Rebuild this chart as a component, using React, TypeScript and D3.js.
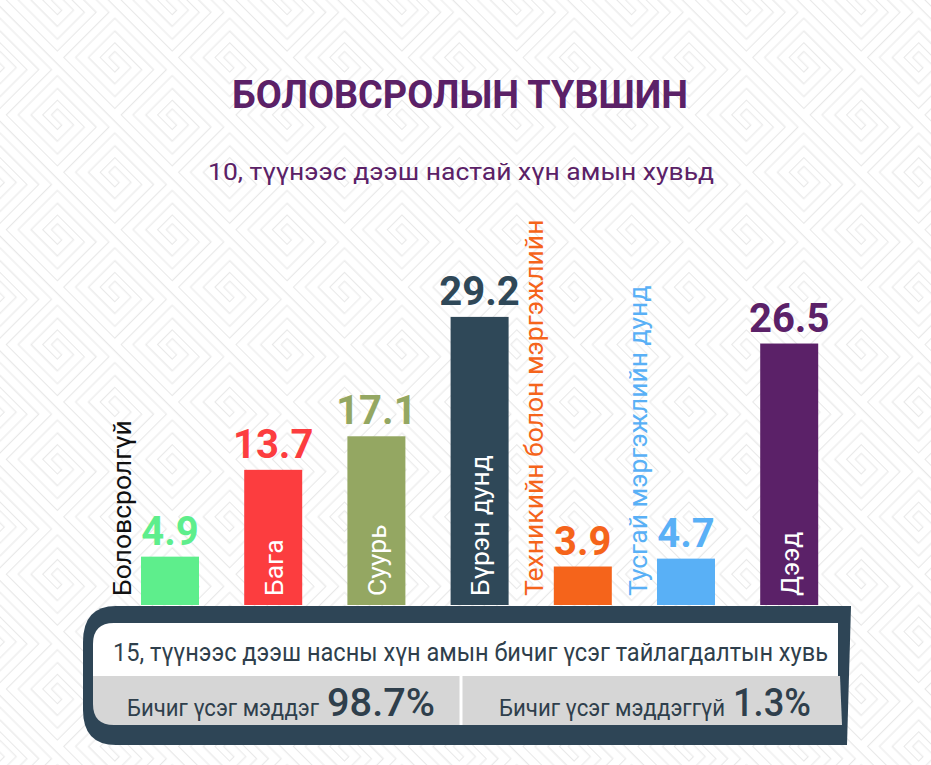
import React from "react";
import * as d3 from "d3";

const categories = [
  "Боловсролгүй",
  "Бага",
  "Суурь",
  "Бүрэн дунд",
  "Техникийн болон мэргэжлийн",
  "Тусгай мэргэжлийн дунд",
  "Дээд",
];
const values = [4.9, 13.7, 17.1, 29.2, 3.9, 4.7, 26.5];
const barColors = ["#5eee8c", "#fc3d3f", "#94a762", "#2f4858", "#f5641b", "#59b0f6", "#5b2168"];
const labelInside = [false, true, true, true, false, false, true];
const literacyLabels = ["Бичиг үсэг мэддэг", "Бичиг үсэг мэддэггүй"];
const literacyValues = ["98.7%", "1.3%"];

const TITLE = "БОЛОВСРОЛЫН ТҮВШИН";
const SUBTITLE = "10, түүнээс дээш настай хүн амын хувьд";
const PANEL_TITLE = "15, түүнээс дээш насны хүн амын бичиг үсэг тайлагдалтын хувь";

const W = 931;
const H = 765;
const FONT = "Roboto, 'Noto Sans', sans-serif";
const PURPLE = "#5b2167";
const DARK = "#2e4556";
const TEXT_DARK = "#2f3f4c";
const LABEL_SIZE = 26.5;

export default function App() {
  const x = d3.scaleBand<string>().domain(categories).range([95.8, 863.4]).paddingInner(0.438).paddingOuter(0.438);
  const y = d3.scaleLinear().domain([0, 30]).range([605, 309]);
  const bw = x.bandwidth();

  const meander = "M0,6 H56 M6,6 V50 H50 V18 H18 V38 H38 V28 H28";

  const cells = d3.scaleBand<string>().domain(literacyLabels).range([94, 842]);
  const labelLens = [192, 226];
  const valueLens = [108, 78];
  const GAP = 8;

  return (
    <svg width={W} height={H} style={{ position: "absolute", left: 0, top: 0, display: "block", background: "#fff" }}>
      <defs>
        <pattern id="bg" width={56} height={56} patternUnits="userSpaceOnUse" patternTransform="rotate(45) scale(1.45)">
          <path d={meander} fill="none" stroke="#e8e8e8" strokeWidth={6.5} strokeLinecap="square" />
          <path d={meander} fill="none" stroke="#ffffff" strokeWidth={5} strokeLinecap="square" />
        </pattern>
      </defs>
      <rect x={0} y={0} width={W} height={H} fill="url(#bg)" />

      <text x={460} y={108} textAnchor="middle" fontFamily={FONT} fontWeight={700} fontSize={38} fill={PURPLE} textLength={456} lengthAdjust="spacingAndGlyphs">
        {TITLE}
      </text>
      <text x={461} y={180} textAnchor="middle" fontFamily={FONT} fontSize={24} fill={PURPLE} textLength={506} lengthAdjust="spacingAndGlyphs">
        {SUBTITLE}
      </text>

      {categories.map((c, i) => {
        const x0 = x(c)!;
        const cx = x0 + bw / 2;
        const top = y(values[i]);
        const inside = labelInside[i];
        const lx = inside ? cx : x0 - 20;
        return (
          <g key={c}>
            <rect x={x0} y={top} width={bw} height={y(0) - top} fill={barColors[i]} />
            <text x={cx} y={top - 12} textAnchor="middle" fontFamily={FONT} fontWeight={700} fontSize={40} fill={barColors[i]}>
              {values[i].toFixed(1)}
            </text>
            <text
              transform={`translate(${lx},${y(0) - 9}) rotate(-90)`}
              dy="0.36em"
              fontFamily={FONT}
              fontSize={LABEL_SIZE}
              fill={inside ? "#ffffff" : i === 0 ? "#111111" : barColors[i]}
            >
              {c}
            </text>
          </g>
        );
      })}

      {/* bottom banner */}
      <path d="M851,606 H116 Q83,606 83,642 V710 Q83,745 116,745 H847 Z" fill={DARK} />
      <path d="M838,623 H114 Q93,623 93,644 V676 H838 Z" fill="#ffffff" />
      <path d="M93,676 V704 Q93,725 114,725 H842 L840,676 Z" fill="#d6d6d6" />
      <line x1={461} x2={461} y1={676} y2={725} stroke="#ffffff" strokeWidth={3} />
      <text x={113} y={661} fontFamily={FONT} fontSize={26.5} fill={TEXT_DARK} textLength={715} lengthAdjust="spacingAndGlyphs">
        {PANEL_TITLE}
      </text>
      {literacyLabels.map((l, i) => {
        const cx = cells(l)! + cells.bandwidth() / 2;
        const total = labelLens[i] + GAP + valueLens[i];
        const start = cx - total / 2;
        return (
          <text key={l} x={start} y={716} fontFamily={FONT} fill={TEXT_DARK}>
            <tspan fontSize={23} textLength={labelLens[i]} lengthAdjust="spacingAndGlyphs">
              {l}
            </tspan>
            <tspan x={start + labelLens[i] + GAP} fontSize={38} fontWeight={500} textLength={valueLens[i]} lengthAdjust="spacingAndGlyphs">
              {literacyValues[i]}
            </tspan>
          </text>
        );
      })}
    </svg>
  );
}
